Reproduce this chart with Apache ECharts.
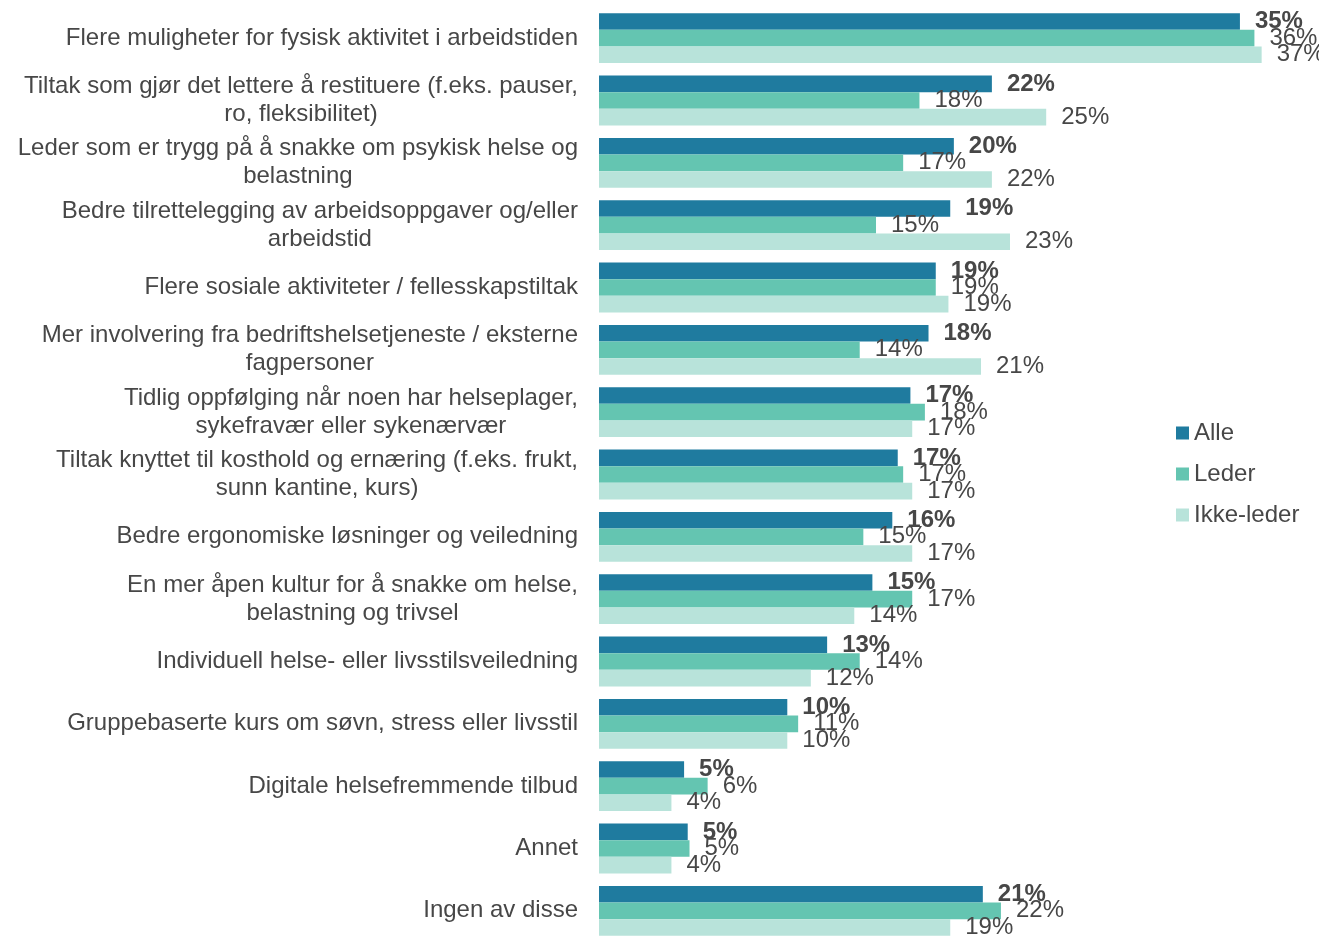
<!DOCTYPE html>
<html>
<head>
<meta charset="utf-8">
<script src="https://cdn.jsdelivr.net/npm/echarts@6/dist/echarts.min.js"></script>
<style>
  html, body { margin: 0; padding: 0; background: #ffffff; overflow: hidden; }
  #chart { width: 1319px; height: 942px; }
</style>
</head>
<body>
<div id="chart"></div>
<script>
// Tiltak for bedre helse på arbeidsplassen – andel (%) per gruppe
const categories = [
  'Flere muligheter for fysisk aktivitet i arbeidstiden',
  'Tiltak som gjør det lettere å restituere (f.eks. pauser,\nro, fleksibilitet)',
  'Leder som er trygg på å snakke om psykisk helse og\nbelastning',
  'Bedre tilrettelegging av arbeidsoppgaver og/eller\narbeidstid',
  'Flere sosiale aktiviteter / fellesskapstiltak',
  'Mer involvering fra bedriftshelsetjeneste / eksterne\nfagpersoner',
  'Tidlig oppfølging når noen har helseplager,\nsykefravær eller sykenærvær',
  'Tiltak knyttet til kosthold og ernæring (f.eks. frukt,\nsunn kantine, kurs)',
  'Bedre ergonomiske løsninger og veiledning',
  'En mer åpen kultur for å snakke om helse,\nbelastning og trivsel',
  'Individuell helse- eller livsstilsveiledning',
  'Gruppebaserte kurs om søvn, stress eller livsstil',
  'Digitale helsefremmende tilbud',
  'Annet',
  'Ingen av disse'
];

const seriesNames = ['Alle', 'Leder', 'Ikke-leder'];

const alle      = [35.4, 21.7, 19.6, 19.4, 18.6, 18.2, 17.2, 16.5, 16.2, 15.1, 12.6, 10.4, 4.7, 4.9, 21.2];
const leder     = [36.2, 17.7, 16.8, 15.3, 18.6, 14.4, 18.0, 16.8, 14.6, 17.3, 14.4, 11.0, 6.0, 5.0, 22.2];
const ikkeLeder = [36.6, 24.7, 21.7, 22.7, 19.3, 21.1, 17.3, 17.3, 17.3, 14.1, 11.7, 10.4, 4.0, 4.0, 19.4];

const colors = ['#1f7b9f', '#64c5b1', '#b8e3da'];
const textColor = '#474747';
const fontFamily = '"Liberation Sans", Arial, sans-serif';

const chart = echarts.init(document.getElementById('chart'), null, { renderer: 'canvas' });

function barSeries(name, data, color, bold) {
  return {
    name: name,
    type: 'bar',
    data: data,
    barGap: '0%',
    barCategoryGap: '20%',
    itemStyle: { color: color },
    label: {
      show: true,
      position: 'right',
      distance: 15,
      color: textColor,
      fontFamily: fontFamily,
      fontSize: 24,
      fontWeight: bold ? 'bold' : 'normal',
      formatter: p => Math.round(p.value) + '%'
    },
    emphasis: { disabled: true },
    animation: false
  };
}

chart.setOption({
  backgroundColor: '#ffffff',
  animation: false,
  // the last group runs a few pixels past the visible page edge
  grid: { left: 599, right: 32, top: 7, bottom: 0, containLabel: false },
  legend: {
    orient: 'vertical',
    left: 1171,
    top: 416,
    itemWidth: 13,
    itemHeight: 13,
    itemGap: 17,
    icon: 'rect',
    textStyle: { color: textColor, fontSize: 24, fontFamily: fontFamily },
    data: seriesNames
  },
  xAxis: {
    type: 'value',
    min: 0,
    max: 38,
    show: false
  },
  yAxis: {
    type: 'category',
    inverse: true,
    data: categories,
    axisLine: { show: false },
    axisTick: { show: false },
    splitLine: { show: false },
    axisLabel: {
      margin: 21,
      color: textColor,
      fontFamily: fontFamily,
      fontSize: 24,
      lineHeight: 28,
      formatter: v => v.split('\n').map(l => '{c|' + l + '}').join('\n'),
      rich: {
        c: { align: 'center', color: textColor, fontFamily: fontFamily, fontSize: 24, lineHeight: 28 }
      }
    }
  },
  series: [
    barSeries(seriesNames[0], alle, colors[0], true),
    barSeries(seriesNames[1], leder, colors[1], false),
    barSeries(seriesNames[2], ikkeLeder, colors[2], false)
  ]
});
</script>
</body>
</html>
